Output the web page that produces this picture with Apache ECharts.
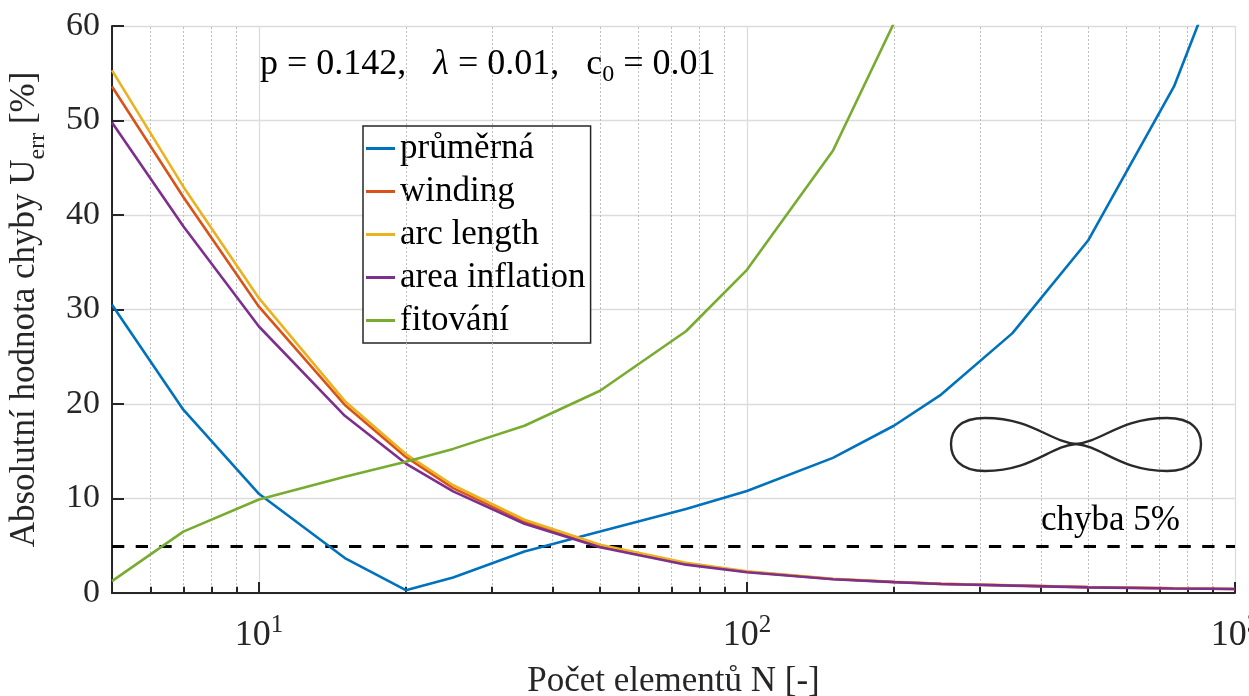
<!DOCTYPE html>
<html>
<head>
<meta charset="utf-8">
<script src="https://cdn.jsdelivr.net/npm/echarts@6/dist/echarts.min.js"></script>
<style>
  html, body { margin: 0; padding: 0; background: #fff; }
  #main { width: 1249px; height: 696px; }
</style>
</head>
<body>
<div id="main"></div>
<script>
// pocet elementu N
const elements = [5, 7, 10, 15, 20, 25, 35, 50, 75, 100, 150, 200, 250, 350, 500, 750, 1000];

// absolutni chyba [%]
const prumerna = [30.5, 19.4, 10.5, 3.7, 0.3, 1.65, 4.4, 6.5, 8.9, 10.8, 14.3, 17.7, 21.0, 27.5, 37.3, 53.6, 70.2];
const winding = [53.6, 41.9, 30.3, 19.9, 14.4, 11.1, 7.55, 4.95, 3.1, 2.25, 1.48, 1.17, 0.97, 0.8, 0.62, 0.5, 0.43];
const arcLength = [55.3, 43.0, 31.2, 20.3, 14.7, 11.4, 7.75, 5.1, 3.2, 2.3, 1.5, 1.18, 0.98, 0.81, 0.63, 0.5, 0.43];
const areaInflation = [49.8, 38.8, 28.2, 18.75, 13.7, 10.75, 7.33, 4.85, 3.0, 2.2, 1.45, 1.15, 0.95, 0.78, 0.6, 0.48, 0.42];
const fitovani = [1.25, 6.5, 9.9, 12.3, 13.9, 15.25, 17.7, 21.4, 27.7, 34.2, 46.8, 60.3, 75, 95, 120, 150, 180];

const seriesNames = ["průměrná", "winding", "arc length", "area inflation", "fitování"];
const colors = ["#0072BD", "#D95319", "#EDB120", "#7E2F8E", "#77AC30"];

// vedlejsi dilky log osy
const minorX = [6, 7, 8, 9, 20, 30, 40, 50, 60, 70, 80, 90, 200, 300, 400, 500, 600, 700, 800, 900];
const errLimit = 5;

const serif = "Liberation Serif";

function pairs(ys) {
  return elements.map((x, i) => [x, ys[i]]);
}

// obrazek tvaru (osmicka) - useky bezierovych krivek
const shapeSegs = [
  [985, 418, 1032, 418, 1050, 442, 1076, 444],
  [1076, 444, 1102, 446, 1120, 471, 1167, 471],
  [1167, 471, 1193, 471, 1201, 457, 1201, 444],
  [1201, 444, 1201, 431, 1193, 418, 1167, 418],
  [1167, 418, 1120, 418, 1102, 442, 1076, 444],
  [1076, 444, 1050, 446, 1032, 471, 985, 471],
  [985, 471, 959, 471, 951, 457, 951, 444],
  [951, 444, 951, 431, 959, 418, 985, 418],
];

const chart = echarts.init(document.getElementById("main"));

const lines = [prumerna, winding, arcLength, areaInflation, fitovani].map((ys, i) => ({
  name: seriesNames[i],
  type: "line",
  data: pairs(ys),
  showSymbol: false,
  symbol: "none",
  z: 5,
  lineStyle: { color: colors[i], width: 2.6 },
  itemStyle: { color: colors[i] },
  animation: false,
}));

const option = {
  animation: false,
  grid: { left: 112, right: 14, top: 26, bottom: 103, outerBoundsMode: "none", containLabel: false },
  legend: {
    orient: "vertical",
    left: 363,
    top: 126,
    data: seriesNames,
    icon: "rect",
    itemWidth: 29,
    itemHeight: 3,
    itemGap: 8,
    padding: [5, 5, 5, 3],
    backgroundColor: "#fff",
    borderColor: "#262626",
    borderWidth: 1.5,
    textStyle: { fontFamily: serif, fontSize: 35, color: "#000", lineHeight: 32 },
  },
  xAxis: {
    type: "log",
    logBase: 10,
    min: 5,
    max: 1000,
    name: "Počet elementů N [-]",
    nameLocation: "middle",
    nameGap: 66,
    nameTextStyle: { fontFamily: serif, fontSize: 35, color: "#262626" },
    axisLine: { lineStyle: { color: "#262626", width: 2 } },
    axisTick: { inside: true, length: 11, lineStyle: { color: "#262626", width: 2 } },
    axisLabel: {
      margin: 20,
      color: "#262626",
      fontFamily: serif,
      fontSize: 36,
      lineHeight: 46,
      hideOverlap: false,
      formatter: function (v) {
        const e = Math.log10(v);
        if (Math.abs(e - Math.round(e)) > 1e-6) return "";
        return "10{sup|" + Math.round(e) + "}";
      },
      rich: {
        sup: { fontFamily: serif, fontSize: 25, lineHeight: 20, verticalAlign: "top", color: "#262626" },
      },
    },
    splitLine: { show: true, lineStyle: { color: "#dcdcdc", width: 1.3 } },
  },
  yAxis: {
    type: "value",
    min: 0,
    max: 60,
    interval: 10,
    name: "Absolutní hodnota chyby U{sub|err} [%]",
    nameLocation: "middle",
    nameGap: 62,
    nameTextStyle: {
      fontFamily: serif,
      fontSize: 35,
      color: "#262626",
      lineHeight: 50,
      rich: {
        sub: { fontFamily: serif, fontSize: 24, lineHeight: 30, verticalAlign: "bottom", color: "#262626" },
      },
    },
    axisLine: { show: true, lineStyle: { color: "#262626", width: 2 } },
    axisTick: { show: true, inside: true, length: 12, lineStyle: { color: "#262626", width: 2 } },
    axisLabel: { margin: 12, color: "#262626", fontFamily: serif, fontSize: 34 },
    splitLine: { show: true, lineStyle: { color: "#dcdcdc", width: 1.3 } },
  },
  graphic: [
    {
      type: "text",
      left: 260,
      top: 43,
      z: 10,
      style: {
        text: "p = 0.142,   {i|λ} = 0.01,   c{sub|0} = 0.01",
        fontFamily: serif,
        fontSize: 36,
        fill: "#000",
        lineHeight: 44,
        rich: {
          i: { fontFamily: serif, fontSize: 36, fontStyle: "italic", lineHeight: 44 },
          sub: { fontFamily: serif, fontSize: 24, lineHeight: 18, verticalAlign: "bottom" },
        },
      },
    },
    {
      type: "text",
      left: 1041,
      top: 503,
      z: 10,
      style: { text: "chyba 5%", fontFamily: serif, fontSize: 35, fill: "#000" },
    },
  ].concat(
    shapeSegs.map((s) => ({
      type: "bezierCurve",
      z: 10,
      shape: { x1: s[0], y1: s[1], cpx1: s[2], cpy1: s[3], cpx2: s[4], cpy2: s[5], x2: s[6], y2: s[7] },
      style: { fill: null, stroke: "#2a2a2a", lineWidth: 2.4 },
    }))
  ),
  series: [
    {
      // vedlejsi mrizka a dilky
      name: "grid-minor",
      type: "line",
      data: [],
      z: 1,
      silent: true,
      markLine: {
        silent: true,
        symbol: "none",
        animation: false,
        label: { show: false },
        lineStyle: { color: "#bdbdbd", width: 1, type: [2, 2] },
        data: minorX.map((x) => ({ xAxis: x })),
      },
    },
    {
      name: "ticks-minor",
      type: "line",
      data: [],
      z: 3,
      silent: true,
      markLine: {
        silent: true,
        symbol: "none",
        animation: false,
        label: { show: false },
        lineStyle: { color: "#262626", width: 2, type: "solid" },
        data: minorX.map((x) => [{ coord: [x, 0] }, { coord: [x, 0.65] }]),
      },
    },
    {
      name: "limit",
      type: "line",
      data: [],
      z: 6,
      silent: true,
      markLine: {
        silent: true,
        symbol: "none",
        animation: false,
        label: { show: false },
        lineStyle: { color: "#000", width: 3, type: [12.3, 11.4] },
        data: [{ yAxis: errLimit }],
      },
    },
  ].concat(lines),
};

chart.setOption(option);
</script>
</body>
</html>
